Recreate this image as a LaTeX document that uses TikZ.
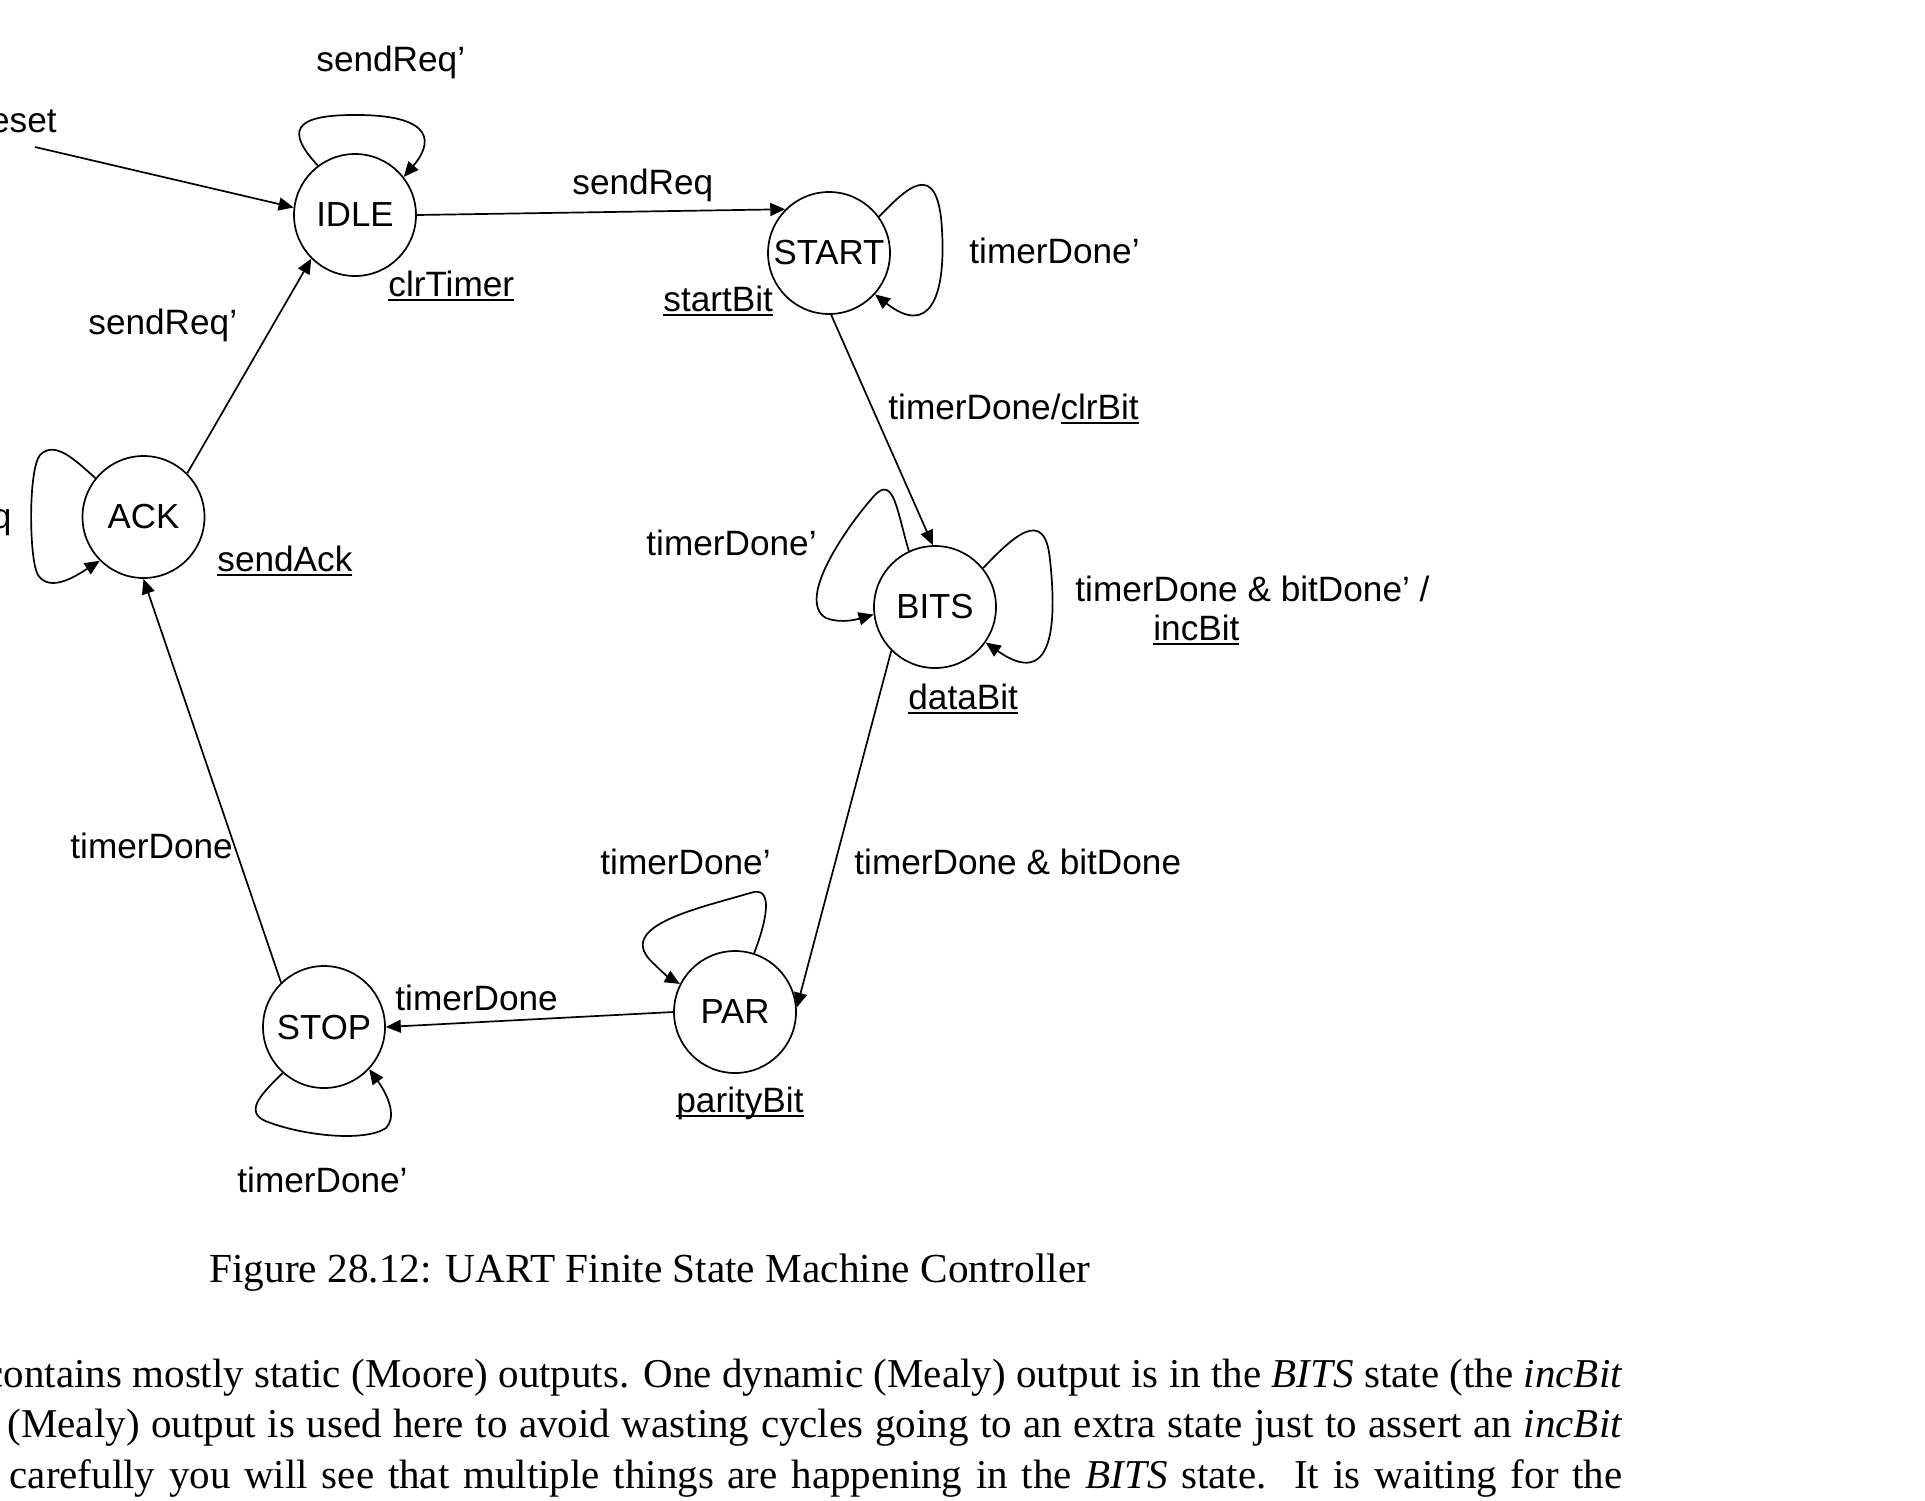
\documentclass[tikz,border=0pt]{standalone}
\usepackage{fontspec}
\setmainfont{Liberation Serif}
\newfontfamily\arialf{Liberation Sans}
\usetikzlibrary{arrows.meta}
\newcommand\ulbl[1]{\setbox0\hbox{#1}\rlap{\rule[-2.7pt]{\wd0}{1.15pt}}\box0}
\tikzset{
  state/.style={circle, draw, line width=0.85pt, minimum size=61pt, inner sep=0pt, font=\arialf\fontsize{17.4}{20}\selectfont},
  lbl/.style={anchor=base west, inner sep=0pt, font=\arialf\fontsize{17.6}{20}\selectfont},
  arr/.style={line width=0.85pt, -{Triangle[length=7.5pt,width=6.5pt]}},
  bodyline/.style={anchor=base east, inner sep=0pt, font=\fontsize{20.5}{24}\selectfont},
}
\begin{document}
\begin{tikzpicture}[x=0.5pt,y=-0.5pt]
\useasboundingbox (0,0) rectangle (1925,1500);
% states
\node[state] (IDLE) at (355,215) {IDLE};
\node[state] (START) at (829,253) {START};
\node[state] (BITS) at (935,607) {BITS};
\node[state] (ACK) at (143.5,517) {ACK};
\node[state] (STOP) at (324,1027) {STOP};
\node[state] (PAR) at (735,1012) {PAR};
\coordinate (rst) at (35,147);
% transitions
\draw[arr] (rst) -- (IDLE.173);
\draw[arr] (IDLE.127) .. controls (287,132) and (290,114) .. (360,115) .. controls (436,116) and (432,144) .. (IDLE.38);
\draw[arr] (IDLE.east) -- (START.135);
\draw[arr] (START.36) .. controls (905,190) and (938,155) .. (942,230) .. controls (946,300) and (928,336) .. (START.318);
\draw[arr] (START.272) -- (BITS.92);
\draw[arr] (BITS.115) .. controls (897,512) and (894,474) .. (874,496) .. controls (848,525) and (795,600) .. (826,618) .. controls (842,624) and (858,619) .. (BITS.187);
\draw[arr] (BITS.39) .. controls (1012,538) and (1045,505) .. (1050,560) .. controls (1057,625) and (1053,690) .. (BITS.325);
\draw[arr] (BITS.225) -- (PAR.4);
\draw[arr] (PAR.72) .. controls (765,925) and (776,884) .. (750,893) .. controls (700,908) and (618,925) .. (650,960) .. controls (660,970) and (668,977) .. (PAR.153);
\draw[arr] (PAR.west) -- (STOP.east);
\draw[arr] (STOP.228) .. controls (266,1090) and (240,1112) .. (268,1122) .. controls (305,1136) and (365,1142) .. (386,1128) .. controls (396,1118) and (390,1098) .. (STOP.317);
\draw[arr] (STOP.134) -- (ACK.south);
\draw[arr] (ACK.141) .. controls (75,460) and (55,440) .. (40,455) .. controls (28,470) and (29,560) .. (38,575) .. controls (50,593) and (76,576) .. (ACK.225);
\draw[arr] (ACK.45) -- (IDLE.225);
% labels
\node[lbl] (lreset) at (-22,132) {reset};
\node[lbl] (lidle) at (316,71) {sendReq’};
\node[lbl] (lis) at (572,194) {sendReq};
\node[lbl] (lstart) at (969,263) {timerDone’};
\node[lbl] (oidle) at (388,296) {\ulbl{clrTimer}};
\node[lbl] (ostart) at (663,311) {\ulbl{startBit}};
\node[lbl] (lai) at (88,334) {sendReq’};
\node[lbl] (lsb) at (888,419) {timerDone/\ulbl{clrBit}};
\node[lbl, anchor=base east] (lack) at (12,528) {sendReq};
\node[lbl] (lbitsl) at (646,555) {timerDone’};
\node[lbl] (oack) at (217,571) {\ulbl{sendAck}};
\node[lbl] (lbitsr) at (1075,601) {timerDone \& bitDone’ /};
\node[lbl] (lbitsr2) at (1153,640) {\ulbl{incBit}};
\node[lbl] (obits) at (908,709) {\ulbl{dataBit}};
\node[lbl] (lsa) at (70,858) {timerDone};
\node[lbl] (lpar) at (600,874) {timerDone’};
\node[lbl] (lbp) at (854,874) {timerDone \& bitDone};
\node[lbl] (lps) at (395,1010) {timerDone};
\node[lbl] (opar) at (676,1112) {\ulbl{parityBit}};
\node[lbl] (lstop) at (237,1192) {timerDone’};
% caption and text
\node[anchor=base west, inner sep=0pt, font=\fontsize{20.65}{24}\selectfont] (cap) at (209,1282) {Figure 28.12: UART Finite State Machine Controller};
\node[bodyline] (t1) at (1623,1387) {\makebox[818.5pt][s]{contains mostly static (Moore) outputs. One dynamic (Mealy) output is in the \textit{BITS} state (the \textit{incBit}}};
\node[bodyline] (t2) at (1623,1437.5) {\makebox[807.5pt][s]{(Mealy) output is used here to avoid wasting cycles going to an extra state just to assert an \textit{incBit}}};
\node[bodyline] (t3) at (1623,1488) {\makebox[806.5pt][s]{carefully you will see that multiple things are happening in the \textit{BITS} state.\ \ It is waiting for the}};
\end{tikzpicture}
\end{document}
